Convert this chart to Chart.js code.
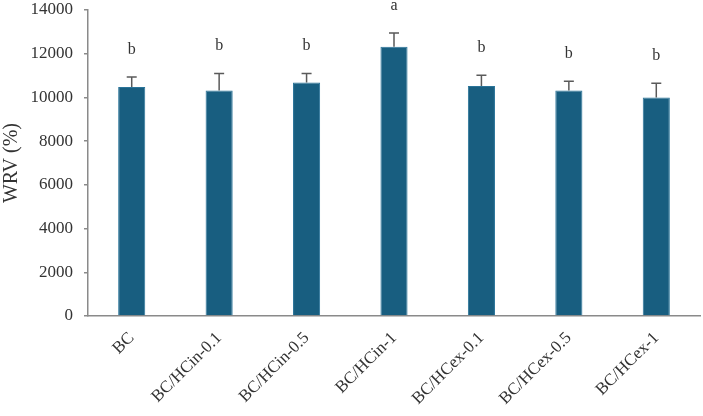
<!DOCTYPE html>
<html>
<head>
<meta charset="utf-8">
<script src="https://cdn.jsdelivr.net/npm/chart.js@4"></script>
<style>
  html, body { margin: 0; padding: 0; background: #fff; }
  #wrap { width: 703px; height: 416px; position: relative; }
</style>
</head>
<body>
<div id="wrap"><canvas id="chart"></canvas></div>
<script>
const groups = ['BC', 'BC/HCin-0.1', 'BC/HCin-0.5', 'BC/HCin-1', 'BC/HCex-0.1', 'BC/HCex-0.5', 'BC/HCex-1'];
const wrv = [10480, 10320, 10680, 12320, 10520, 10320, 10000];
const wrvErr = [450, 780, 420, 630, 500, 420, 650];
const letters = ['b', 'b', 'b', 'a', 'b', 'b', 'b'];

const serif = '"Liberation Serif", "Times New Roman", serif';

// error bars (upper only) + significance letters
const errorBars = {
  id: 'errorBars',
  afterDatasetsDraw(chart) {
    const ctx = chart.ctx;
    const meta = chart.getDatasetMeta(0);
    const y = chart.scales.y;
    ctx.save();
    meta.data.forEach((bar, i) => {
      const top = y.getPixelForValue(wrv[i]);
      const errTop = y.getPixelForValue(wrv[i] + wrvErr[i]);
      ctx.strokeStyle = '#5a5a5a';
      ctx.lineWidth = 1.5;
      ctx.beginPath();
      ctx.moveTo(bar.x, top);
      ctx.lineTo(bar.x, errTop);
      ctx.moveTo(bar.x - 5, errTop);
      ctx.lineTo(bar.x + 5, errTop);
      ctx.stroke();
      ctx.fillStyle = '#333';
      ctx.font = '16px ' + serif;
      ctx.textAlign = 'center';
      ctx.textBaseline = 'alphabetic';
      ctx.fillText(letters[i], bar.x, errTop - 23);
    });
    ctx.restore();
  }
};

new Chart(document.getElementById('chart'), {
  type: 'bar',
  data: {
    labels: groups,
    datasets: [{
      data: wrv,
      backgroundColor: '#185e80',
      borderColor: '#2a7499',
      borderWidth: 1,
      categoryPercentage: 1,
      barPercentage: 0.31
    }]
  },
  options: {
    responsive: true,
    maintainAspectRatio: false,
    animation: false,
    layout: { padding: { top: 10, right: 3, left: 0, bottom: 0 } },
    plugins: {
      legend: { display: false },
      tooltip: { enabled: false }
    },
    scales: {
      x: {
        grid: { display: false },
        border: { display: true, color: '#8a8a8a', width: 1.5 },
        ticks: {
          color: '#333',
          font: { family: serif, size: 17 },
          minRotation: 45,
          maxRotation: 45,
          padding: 4,
          autoSkip: false
        },
        afterFit(scale) { scale.height = 100; }
      },
      y: {
        min: 0,
        max: 14000,
        grid: { drawOnChartArea: false, drawTicks: true, tickLength: 4, color: '#8a8a8a', lineWidth: 1.5 },
        border: { display: true, color: '#8a8a8a', width: 1.5 },
        ticks: {
          stepSize: 2000,
          color: '#333',
          font: { family: serif, size: 17 },
          padding: 11,
          callback: v => String(v)
        },
        title: {
          display: true,
          text: 'WRV (%)',
          color: '#333',
          font: { family: serif, size: 20 },
          padding: { top: 0, bottom: 2 }
        },
        afterFit(scale) {
          scale.width = 88;
          scale.paddingTop = 0;
          scale.paddingBottom = 0;
        }
      }
    }
  },
  plugins: [errorBars]
});
</script>
</body>
</html>
